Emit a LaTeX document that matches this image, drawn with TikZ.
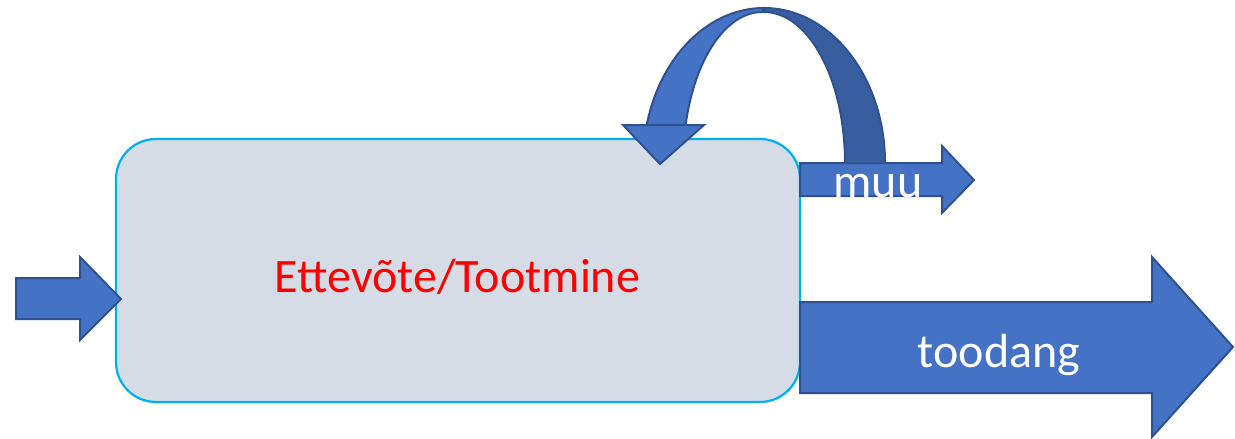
\documentclass[tikz,border=0pt]{standalone}
\usepackage{fontspec}
\setmainfont{Carlito}
\definecolor{arrowfill}{RGB}{68,114,196}
\definecolor{arrowedge}{RGB}{47,82,143}
\definecolor{arrowback}{RGB}{56,94,160}
\definecolor{boxfill}{RGB}{214,220,229}
\definecolor{boxedge}{RGB}{0,176,240}
\begin{document}
\begin{tikzpicture}[x=1pt,y=-1pt,
  blockarrow/.style={fill=arrowfill,draw=arrowedge,line width=2pt,line join=miter},
  backband/.style={fill=arrowback,draw=arrowedge,line width=2pt},
  bigtext/.style={font=\fontsize{48}{52}\selectfont,inner sep=0pt,anchor=base}]
\useasboundingbox (0,0) rectangle (1235,439);
% main box
\draw[fill=boxfill,draw=boxedge,line width=2.2pt,rounded corners=40pt] (116,139) rectangle (800,402);
\node[bigtext,text=red] (main) at (457.5,292) {Ettevõte/Tootmine};
% input arrow
\draw[blockarrow] (16,278) -- (80,278) -- (80,257) -- (121,299) -- (80,340) -- (80,319) -- (16,319) -- cycle;
% curved arrow: back (dark) part
\draw[backband] (885,163) arc[start angle=0,end angle=-90,x radius=121,y radius=155]
  -- (764,12) arc[start angle=-90,end angle=0,x radius=81,y radius=151] -- cycle;
% muu arrow
\draw[blockarrow] (800,163) -- (942,163) -- (942,146) -- (974,180) -- (942,213) -- (942,196) -- (800,196) -- cycle;
\node[bigtext,text=white] (muu) at (878,197) {muu};
% curved arrow: front (light) part
\draw[blockarrow] (764,8) arc[start angle=-90,end angle=-165.8,x radius=121,y radius=155]
  -- (685.6,125) arc[start angle=-165.4,end angle=-90,x radius=79,y radius=151] -- cycle;
\draw[blockarrow] (623,125) -- (704,125) -- (660,164) -- cycle;
% output arrow
\draw[blockarrow] (800,302) -- (1152,302) -- (1152,257) -- (1233,347) -- (1152,437) -- (1152,393) -- (800,393) -- cycle;
\node[bigtext,text=white] (out) at (999,367) {toodang};
\end{tikzpicture}
\end{document}
